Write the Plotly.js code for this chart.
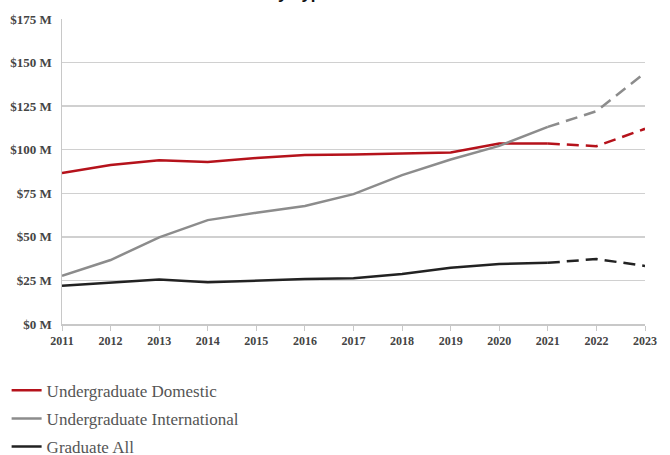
<!DOCTYPE html>
<html>
<head>
<meta charset="utf-8">
<script src="https://cdn.plot.ly/plotly-3.0.1.min.js"></script>
<style>html,body{margin:0;padding:0;background:#fff;}#chart{width:670px;height:455px;}</style>
</head>
<body>
<div id="chart"></div>
<script>
const years = [2011, 2012, 2013, 2014, 2015, 2016, 2017, 2018, 2019, 2020, 2021, 2022, 2023];
const seriesNames = ["Undergraduate Domestic", "Undergraduate International", "Graduate All"];
const ugDomestic = [86.6, 91.2, 93.9, 92.9, 95.2, 96.9, 97.3, 97.9, 98.4, 103.6, 103.6, 102.0, 112.0];
const ugInternational = [27.7, 36.7, 49.7, 59.6, 63.8, 67.7, 74.5, 85.4, 94.4, 102.2, 113.1, 122.1, 144.1];
const gradAll = [22.0, 23.9, 25.6, 23.9, 25.0, 25.8, 26.2, 28.7, 32.3, 34.4, 35.1, 37.3, 33.3];
const projectionStartYear = 2021;
const yTickVals = [0, 25, 50, 75, 100, 125, 150, 175];
const yTickText = ["$0 M", "$25 M", "$50 M", "$75 M", "$100 M", "$125 M", "$150 M", "$175 M"];
const titleText = "Tuition Revenue by Type";

const colors = ["#b5121b", "#8c8c8c", "#222222"];
const allSeries = [ugDomestic, ugInternational, gradAll];
const splitIdx = years.indexOf(projectionStartYear);

const traces = [];
allSeries.forEach((vals, i) => {
  traces.push({
    x: years.slice(0, splitIdx + 1), y: vals.slice(0, splitIdx + 1),
    type: "scatter", mode: "lines", name: seriesNames[i],
    legendgroup: "g" + i,
    line: {color: colors[i], width: 2.5}, hoverinfo: "x+y"
  });
  traces.push({
    x: years.slice(splitIdx), y: vals.slice(splitIdx),
    type: "scatter", mode: "lines", name: seriesNames[i] + " (projected)",
    legendgroup: "g" + i, showlegend: false,
    line: {color: colors[i], width: 2.5, dash: "12px,7px"}, hoverinfo: "x+y"
  });
});

const layout = {
  width: 670, height: 455,
  margin: {l: 62, r: 25, t: 19, b: 131, autoexpand: false},
  paper_bgcolor: "#fff", plot_bgcolor: "#fff",
  showlegend: true,
  font: {family: "Liberation Serif, serif", color: "#444"},
  xaxis: {
    range: [2011, 2023], tickvals: years, ticktext: years.map(String),
    showgrid: false, zeroline: false,
    showline: true, linecolor: "#c8c8c8", linewidth: 1.5,
    ticks: "outside", ticklen: 5, tickcolor: "#c8c8c8", tickwidth: 1,
    tickfont: {family: "Liberation Serif, serif", size: 12, color: "#444", weight: "bold"},
    fixedrange: true
  },
  yaxis: {
    range: [0, 175], tickvals: yTickVals, ticktext: yTickText,
    showgrid: true, gridcolor: "#d0d0d0", gridwidth: 1.5, zeroline: false,
    showline: true, linecolor: "#c8c8c8", linewidth: 1.5,
    ticks: "", ticklabelstandoff: 6,
    tickfont: {family: "Liberation Serif, serif", size: 13, color: "#444", weight: "bold"},
    fixedrange: true
  },
  legend: {
    orientation: "v", x: -0.095, xanchor: "left", y: -0.16, yanchor: "top",
    font: {family: "Liberation Serif, serif", size: 17, color: "#555"},
    tracegroupgap: 3, itemwidth: 30, bgcolor: "rgba(0,0,0,0)"
  },
  annotations: [{
    text: "<b>" + titleText + "</b>", xref: "paper", yref: "paper",
    x: 0.464, xanchor: "right", y: 1.045, yanchor: "bottom", showarrow: false,
    font: {family: "Liberation Sans, sans-serif", size: 17, color: "#111"}
  }]
};

Plotly.newPlot("chart", traces, layout, {displayModeBar: false, staticPlot: true});
</script>
</body>
</html>
